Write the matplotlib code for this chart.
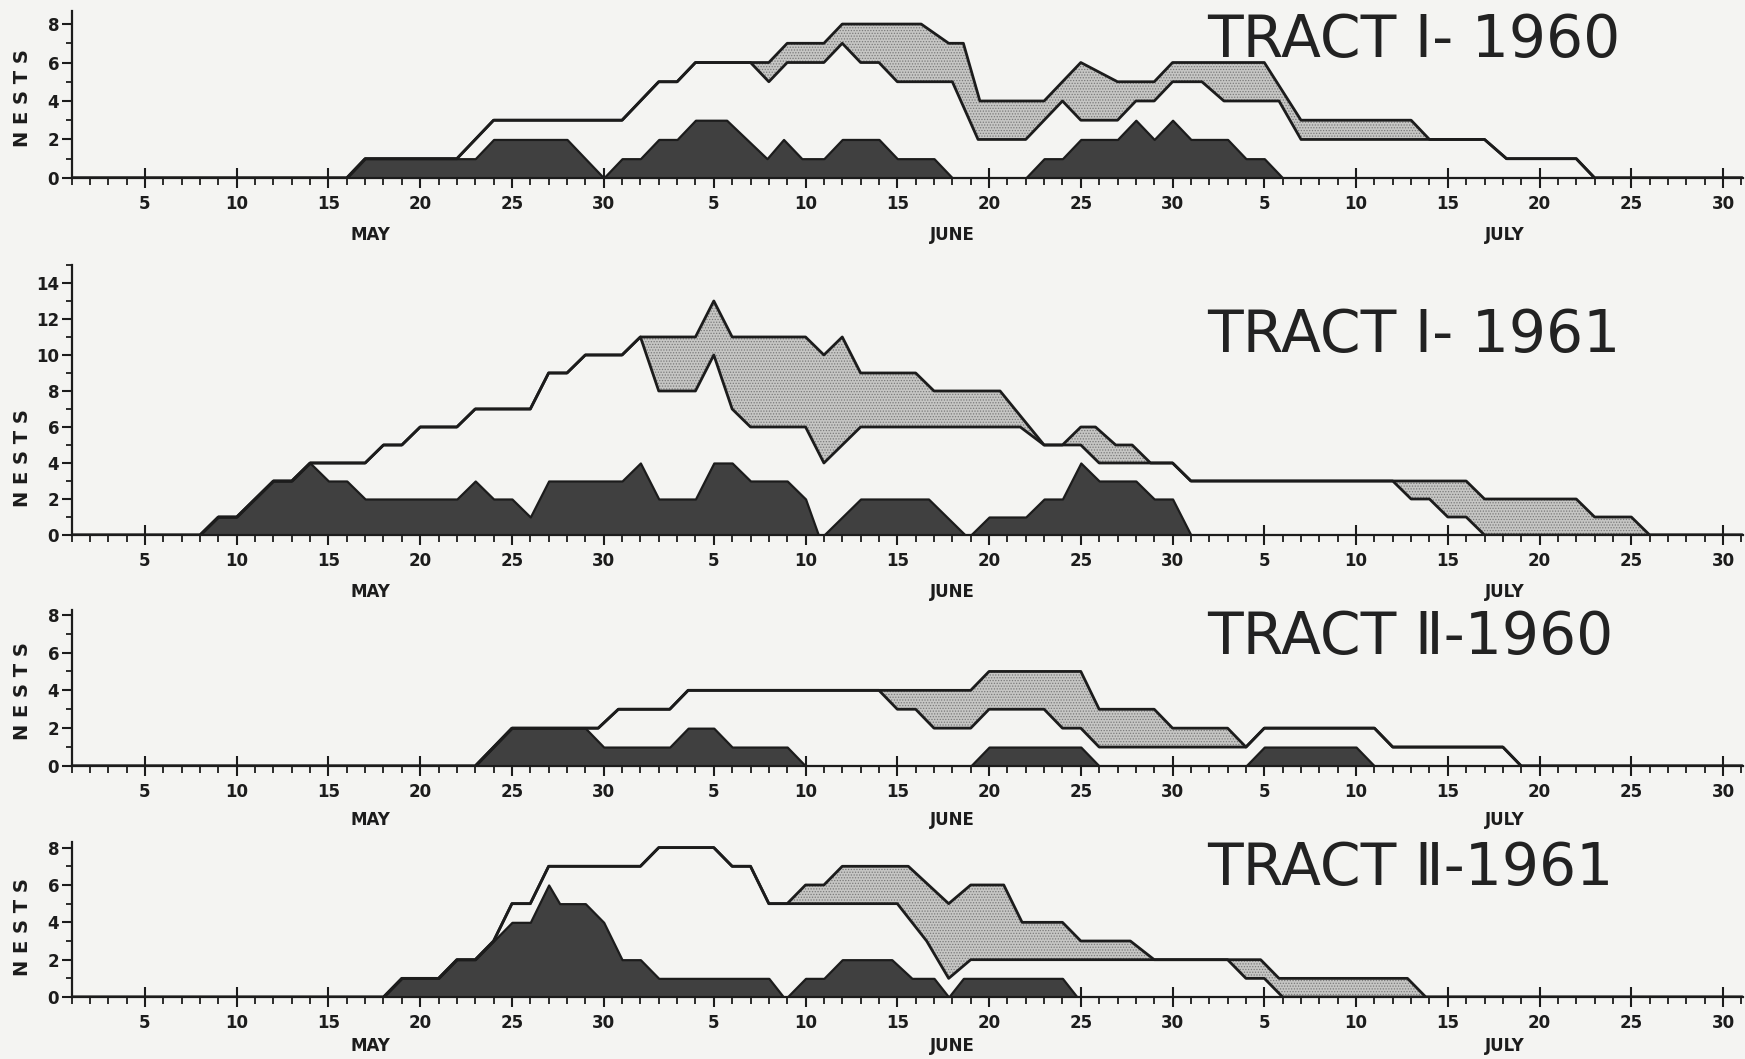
import matplotlib
matplotlib.use('Agg')
import matplotlib.pyplot as plt

# dias contados a partir de 30 de abril: 1 = 1 maio, 32 = 1 junho, 62 = 1 julho
# A = linha de cima (total), B = linha de baixo da faixa pontilhada, D = area escura

# TRACT I - 1960
A1_x = [1, 16, 17, 22, 24, 31, 33, 34, 35, 39, 40, 42, 43, 47.3, 48.8, 49.6, 50.5, 54, 56, 58, 60, 61, 66, 68, 74, 75, 78, 79.2, 83, 84, 92]
A1_y = [0, 0, 1, 1, 3, 3, 5, 5, 6, 6, 7, 7, 8, 8, 7, 7, 4, 4, 6, 5, 5, 6, 6, 3, 3, 2, 2, 1, 1, 0, 0]
B1_x = [1, 16, 17, 22, 24, 31, 33, 34, 35, 38, 39, 40, 42, 43, 44, 45, 46, 49, 50.4, 53, 55, 56, 58, 59, 60, 61, 62.6, 63.8, 66.8, 68, 78, 79.2, 83, 84, 92]
B1_y = [0, 0, 1, 1, 3, 3, 5, 5, 6, 6, 5, 6, 6, 7, 6, 6, 5, 5, 2, 2, 4, 3, 3, 4, 4, 5, 5, 4, 4, 2, 2, 1, 1, 0, 0]
D1_x = [1, 16, 17, 23, 24, 28, 30, 31, 32, 33, 34, 35, 36.7, 38.9, 39.8, 40.8, 42, 43, 45, 46, 48, 49, 53, 54, 55, 56, 58, 59, 60, 61, 62, 64, 65, 66, 67, 92]
D1_y = [0, 0, 1, 1, 2, 2, 0, 1, 1, 2, 2, 3, 3, 1, 2, 1, 1, 2, 2, 1, 1, 0, 0, 1, 1, 2, 2, 3, 2, 3, 2, 2, 1, 1, 0, 0]

# TRACT I - 1961
A2_x = [1, 8, 9, 10, 12, 13, 14, 17, 18, 19, 20, 22, 23, 26, 27, 28, 29, 31, 32, 35, 36, 37, 41, 42, 43, 44, 47, 48, 51.6, 54, 55, 56, 56.8, 57.9, 58.8, 59.8, 61, 62, 77, 78, 83, 84, 86, 87, 92]
A2_y = [0, 0, 1, 1, 3, 3, 4, 4, 5, 5, 6, 6, 7, 7, 9, 9, 10, 10, 11, 11, 13, 11, 11, 10, 11, 9, 9, 8, 8, 5, 5, 6, 6, 5, 5, 4, 4, 3, 3, 2, 2, 1, 1, 0, 0]
B2_x = [1, 8, 9, 10, 12, 13, 14, 17, 18, 19, 20, 22, 23, 26, 27, 28, 29, 31, 32, 33, 35, 36, 37, 38, 41, 42, 44, 52.7, 54, 56, 57, 61, 62, 73, 74, 75, 76, 77, 78, 92]
B2_y = [0, 0, 1, 1, 3, 3, 4, 4, 5, 5, 6, 6, 7, 7, 9, 9, 10, 10, 11, 8, 8, 10, 7, 6, 6, 4, 6, 6, 5, 5, 4, 4, 3, 3, 2, 2, 1, 1, 0, 0]
D2_x = [1, 8, 9, 10, 12, 13, 14, 15, 16, 17, 22, 23, 24, 25, 26, 27, 31, 32, 33, 35, 36, 37, 38, 40, 41, 41.7, 42, 44, 47.7, 49.7, 50, 51, 53, 54, 55, 56, 57, 59, 60, 61, 62, 92]
D2_y = [0, 0, 1, 1, 3, 3, 4, 3, 3, 2, 2, 3, 2, 2, 1, 3, 3, 4, 2, 2, 4, 4, 3, 3, 2, 0, 0, 2, 2, 0, 0, 1, 1, 2, 2, 4, 3, 3, 2, 2, 0, 0]

# TRACT II - 1960
A3_x = [1, 23, 25, 29.7, 30.8, 33.6, 34.6, 50, 51, 56, 57, 60, 61, 64, 65, 66, 72, 73, 79, 80, 92]
A3_y = [0, 0, 2, 2, 3, 3, 4, 4, 5, 5, 3, 3, 2, 2, 1, 2, 2, 1, 1, 0, 0]
B3_x = [1, 23, 25, 29.7, 30.8, 33.6, 34.6, 45, 46, 47, 48, 50, 51, 54, 55, 56, 57, 65, 66, 72, 73, 79, 80, 92]
B3_y = [0, 0, 2, 2, 3, 3, 4, 4, 3, 3, 2, 2, 3, 3, 2, 2, 1, 1, 2, 2, 1, 1, 0, 0]
D3_x = [1, 23, 25, 29, 30, 33.6, 34.6, 36, 37, 40, 41, 50, 51, 56, 57, 65, 66, 71, 72, 92]
D3_y = [0, 0, 2, 2, 1, 1, 2, 2, 1, 1, 0, 0, 1, 1, 0, 0, 1, 1, 0, 0]

# TRACT II - 1961
A4_x = [1, 18, 19, 21, 22, 23, 24, 25, 26, 27, 32, 33, 36, 37, 38, 39, 40, 41, 42, 43, 46.6, 48.8, 50, 51.8, 52.8, 55, 56, 58.7, 60, 65.8, 66.8, 73.8, 74.8, 92]
A4_y = [0, 0, 1, 1, 2, 2, 3, 5, 5, 7, 7, 8, 8, 7, 7, 5, 5, 6, 6, 7, 7, 5, 6, 6, 4, 4, 3, 3, 2, 2, 1, 1, 0, 0]
B4_x = [1, 18, 19, 21, 22, 23, 24, 25, 26, 27, 32, 33, 36, 37, 38, 39, 40, 46, 47.6, 48.8, 50, 64, 65, 66, 67, 92]
B4_y = [0, 0, 1, 1, 2, 2, 3, 5, 5, 7, 7, 8, 8, 7, 7, 5, 5, 5, 3, 1, 2, 2, 1, 1, 0, 0]
D4_x = [1, 18, 19, 21, 22, 23, 24, 25, 26, 27, 27.6, 29, 30, 31, 32, 33, 39, 39.8, 40, 41, 42, 43, 45.7, 46.8, 48, 48.8, 49.6, 55, 55.8, 92]
D4_y = [0, 0, 1, 1, 2, 2, 3, 4, 4, 6, 5, 5, 4, 2, 2, 1, 1, 0, 0, 1, 1, 2, 2, 1, 1, 0, 1, 1, 0, 0]

titulos = ['TRACT \u2160- 1960', 'TRACT \u2160- 1961', 'TRACT \u2161-1960', 'TRACT \u2161-1961']
ytops = [8.7, 15.0, 8.25, 8.3]

dias_major = [5, 10, 15, 20, 25, 30, 36, 41, 46, 51, 56, 61, 66, 71, 76, 81, 86, 91]
rotulos_major = ['5', '10', '15', '20', '25', '30'] * 3
meses = ['MAY', 'JUNE', 'JULY']
meses_x = [17.3, 49.0, 79.1]

painel = [(A1_x, A1_y, B1_x, B1_y, D1_x, D1_y),
          (A2_x, A2_y, B2_x, B2_y, D2_x, D2_y),
          (A3_x, A3_y, B3_x, B3_y, D3_x, D3_y),
          (A4_x, A4_y, B4_x, B4_y, D4_x, D4_y)]

# posicoes dos eixos (left, bottom, width, height) e do titulo
pos = [[0.041, 0.832, 0.958, 0.158],
       [0.041, 0.4948, 0.958, 0.255],
       [0.041, 0.2767, 0.958, 0.1473],
       [0.041, 0.0585, 0.958, 0.1464]]
tit_y = [0.962, 0.683, 0.398, 0.180]
nests_y = [0.907, 0.567, 0.347, 0.125]
mes_off = [41, 41, 39, 35]

fundo = '#f4f4f2'
preto = '#1c1c1c'
plt.rcParams['hatch.linewidth'] = 0.6

fig = plt.figure(figsize=(17.45, 10.59), dpi=100, facecolor=fundo)

for i in range(4):
    ax_, ay_, bx_, by_, dx_, dy_ = painel[i]
    ax = fig.add_axes(pos[i])
    ax.set_facecolor('none')

    # faixa pontilhada entre A e B
    ax.fill(list(ax_) + list(bx_)[::-1], list(ay_) + list(by_)[::-1],
            facecolor='#c6c6c4', edgecolor='#7a7a7a', hatch='......',
            linewidth=0, zorder=2)
    # area escura
    ax.fill_between(dx_, 0, dy_, facecolor='#404040', edgecolor=preto,
                    linewidth=1.6, zorder=3)
    ax.plot(ax_, ay_, color=preto, lw=2.0, zorder=4)
    ax.plot(bx_, by_, color=preto, lw=2.0, zorder=4)

    ax.set_xlim(1, 92.1)
    ax.set_ylim(0, ytops[i])
    for s in ['top', 'right']:
        ax.spines[s].set_visible(False)
    for s in ['left', 'bottom']:
        ax.spines[s].set_linewidth(1.6)
        ax.spines[s].set_color(preto)
        ax.spines[s].set_zorder(5)

    ax.set_xticks(dias_major)
    ax.set_xticklabels(rotulos_major)
    ax.set_xticks(range(1, 93), minor=True)
    top = int(ytops[i])
    ax.set_yticks(range(0, top + 1, 2))
    ax.set_yticks(range(1, top + 1, 2), minor=True)
    ax.tick_params(axis='x', which='major', direction='inout', length=14, width=1.5,
                   pad=5, labelsize=12, colors=preto)
    ax.tick_params(axis='x', which='minor', direction='out', length=5, width=1.3, colors=preto)
    ax.tick_params(axis='y', which='major', direction='out', length=7, width=1.5,
                   pad=2, labelsize=12, colors=preto)
    ax.tick_params(axis='y', which='minor', direction='out', length=4, width=1.3, colors=preto)
    for lab in ax.get_xticklabels() + ax.get_yticklabels():
        lab.set_fontweight('bold')

    for m, mx in zip(meses, meses_x):
        ax.annotate(m, xy=(mx, 0), xycoords='data', xytext=(0, -mes_off[i]),
                    textcoords='offset points', ha='center', va='center',
                    fontsize=12, fontweight='bold', color=preto)

    fig.text(0.692, tit_y[i], titulos[i], ha='left', va='center', fontsize=42,
             color='#222222', family=['DejaVu Sans'])
    fig.text(0.013, nests_y[i], 'N E S T S', rotation=90, ha='center', va='center',
             fontsize=14, fontweight='bold', color=preto)

fig.savefig('out.png', dpi=100, facecolor=fundo)
